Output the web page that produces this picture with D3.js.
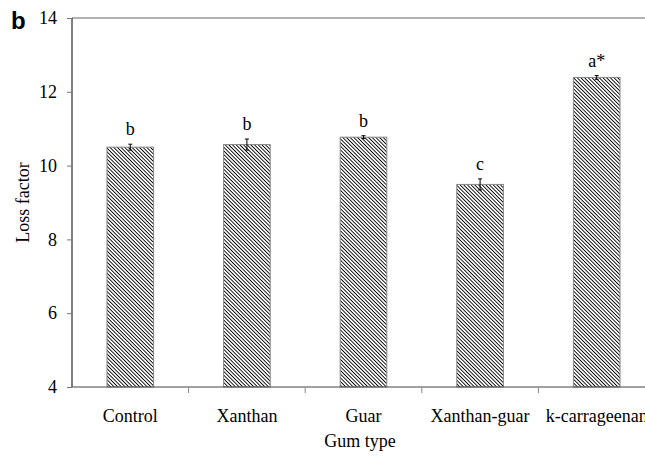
<!DOCTYPE html>
<html><head><meta charset="utf-8">
<script src="https://cdn.jsdelivr.net/npm/d3@7"></script>
<style>body{margin:0;background:#fff;} svg{display:block;}</style>
</head><body>
<script>
const categories = ["Control","Xanthan","Guar","Xanthan-guar","k-carrageenan"];
const values = [10.50, 10.57, 10.77, 9.49, 12.39];
const errors = [0.08, 0.15, 0.04, 0.15, 0.05];
const letters = ["b","b","b","c","a*"];
const yTicks = [4,6,8,10,12,14];

const W = 645, H = 457;
const m = {left:72, top:18, bottom:387, right:655};
const FONT = "Liberation Serif, Times New Roman, serif";
const svg = d3.select("body").append("svg").attr("width",W).attr("height",H);

const defs = svg.append("defs");
const pat = defs.append("pattern").attr("id","hatch").attr("patternUnits","userSpaceOnUse")
  .attr("width",2.6).attr("height",2.6).attr("patternTransform","rotate(45)");
pat.append("rect").attr("width",2.6).attr("height",2.6).attr("fill","#fff");
pat.append("line").attr("x1",0).attr("y1",0).attr("x2",2.6).attr("y2",0)
  .attr("stroke","#000").attr("stroke-width",1.8);

const x = d3.scaleBand().domain(categories).range([m.left,m.right]).paddingInner(0.6).paddingOuter(0.3);
const y = d3.scaleLinear().domain([4,14]).range([m.bottom,m.top]);

// top frame line
svg.append("line").attr("x1",m.left).attr("x2",W).attr("y1",y(14)).attr("y2",y(14))
  .attr("stroke","#666").attr("stroke-width",1);

// bars
svg.selectAll("rect.bar").data(categories).enter().append("rect").attr("class","bar")
  .attr("x",d=>x(d)).attr("width",x.bandwidth())
  .attr("y",(d,i)=>y(values[i])).attr("height",(d,i)=>y(4)-y(values[i]))
  .attr("fill","url(#hatch)").attr("stroke","#888").attr("stroke-width",1);

// error bars
const eg = svg.selectAll("g.err").data(categories).enter().append("g").attr("class","err")
  .attr("stroke","#000").attr("stroke-width",1);
eg.append("line").attr("x1",d=>x(d)+x.bandwidth()/2).attr("x2",d=>x(d)+x.bandwidth()/2)
  .attr("y1",(d,i)=>y(values[i]+errors[i])).attr("y2",(d,i)=>y(values[i]-errors[i]));
eg.append("line").attr("x1",d=>x(d)+x.bandwidth()/2-2).attr("x2",d=>x(d)+x.bandwidth()/2+2)
  .attr("y1",(d,i)=>y(values[i]+errors[i])).attr("y2",(d,i)=>y(values[i]+errors[i]));
eg.append("line").attr("x1",d=>x(d)+x.bandwidth()/2-2).attr("x2",d=>x(d)+x.bandwidth()/2+2)
  .attr("y1",(d,i)=>y(values[i]-errors[i])).attr("y2",(d,i)=>y(values[i]-errors[i]));

// letters
svg.selectAll("text.lt").data(categories).enter().append("text").attr("class","lt")
  .attr("x",d=>x(d)+x.bandwidth()/2).attr("y",(d,i)=>y(values[i]+errors[i])-9)
  .attr("text-anchor","middle").attr("font-family",FONT)
  .attr("font-size",18).text((d,i)=>letters[i]);

// y axis
const ya = svg.append("g").attr("transform",`translate(${m.left},0)`)
  .call(d3.axisLeft(y).tickValues(yTicks).tickSize(5).tickPadding(10));
ya.select(".domain").attr("stroke","#000").attr("d",`M0,${m.top}V${m.bottom}`);
ya.selectAll(".tick line").attr("stroke","#777");
ya.selectAll("text").attr("font-family",FONT).attr("font-size",18).attr("fill","#000");

// x axis
const xa = svg.append("g").attr("transform",`translate(0,${m.bottom})`)
  .call(d3.axisBottom(x).tickSize(0).tickPadding(22));
xa.select(".domain").attr("stroke","#444").attr("d",`M${m.left},0H${W}`);
xa.selectAll("text").attr("font-family",FONT).attr("font-size",18).attr("fill","#000");
// category separator ticks
const step = x.step();
const seps = categories.slice(1).map(c=>x(c)-x.paddingInner()*step/2);
svg.selectAll("line.sep").data(seps).enter().append("line").attr("class","sep")
  .attr("x1",d=>d).attr("x2",d=>d).attr("y1",m.bottom).attr("y2",m.bottom+6)
  .attr("stroke","#888");

// axis titles
svg.append("text").attr("transform",`translate(29,${(m.top+m.bottom)/2}) rotate(-90)`)
  .attr("text-anchor","middle").attr("font-family",FONT)
  .attr("font-size",18).text("Loss factor");
svg.append("text").attr("x",360).attr("y",447).attr("text-anchor","middle")
  .attr("font-family",FONT).attr("font-size",18).text("Gum type");

// panel letter
svg.append("text").attr("x",11).attr("y",29).attr("font-family","Liberation Sans, Arial, sans-serif")
  .attr("font-weight","bold").attr("font-size",24).text("b");
</script>
</body></html>
